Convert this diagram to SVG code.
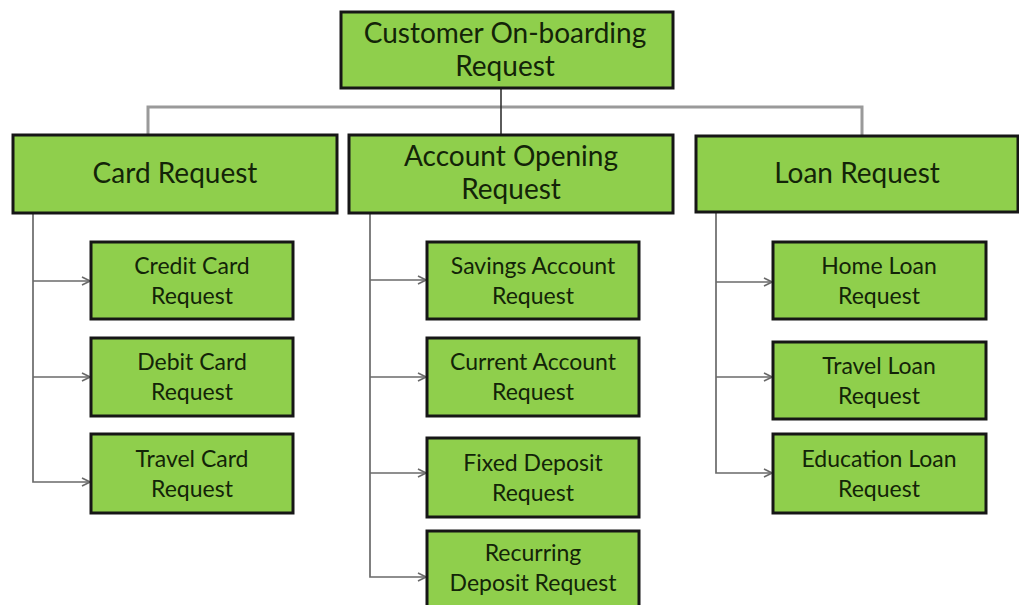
<svg xmlns="http://www.w3.org/2000/svg" width="1019" height="605" viewBox="0 0 1019 605">
  <defs>
    <style>
      .box { fill: #8fcf4c; stroke: #161616; stroke-width: 3; }
      .lbl { font-family: Lato, "Open Sans", "Liberation Sans", sans-serif; fill: #132408; text-anchor: middle; }
      .big { font-size: 28px; }
      .small { font-size: 23px; }
      .wire { fill: none; stroke: #6a6a6a; stroke-width: 1.7; }
      .bus { fill: none; stroke: #9a9a9a; stroke-width: 3; }
      .stem { fill: none; stroke: #333333; stroke-width: 1.6; }
    </style>
    <marker id="arrow" viewBox="0 0 10 10" refX="9" refY="5" markerWidth="10" markerHeight="10" markerUnits="userSpaceOnUse" orient="auto">
      <path d="M1,1 L9,5 L1,9" fill="none" stroke="#6a6a6a" stroke-width="1.6"/>
    </marker>
  </defs>
  <rect width="1019" height="605" fill="#ffffff"/>

  <g id="connectors">
    <path class="bus" d="M148,135 V107 H862 V136"/>
    <line class="stem" x1="501" y1="88" x2="501" y2="135"/>
    <!-- card branch -->
    <path class="wire" d="M33,213 V482 H90" marker-end="url(#arrow)"/>
    <line class="wire" x1="33" y1="281" x2="90" y2="281" marker-end="url(#arrow)"/>
    <line class="wire" x1="33" y1="377" x2="90" y2="377" marker-end="url(#arrow)"/>
    <!-- account branch -->
    <path class="wire" d="M370,213 V577 H426" marker-end="url(#arrow)"/>
    <line class="wire" x1="370" y1="280" x2="426" y2="280" marker-end="url(#arrow)"/>
    <line class="wire" x1="370" y1="377" x2="426" y2="377" marker-end="url(#arrow)"/>
    <line class="wire" x1="370" y1="473" x2="426" y2="473" marker-end="url(#arrow)"/>
    <!-- loan branch -->
    <path class="wire" d="M716,212 V473 H772" marker-end="url(#arrow)"/>
    <line class="wire" x1="716" y1="282" x2="772" y2="282" marker-end="url(#arrow)"/>
    <line class="wire" x1="716" y1="377" x2="772" y2="377" marker-end="url(#arrow)"/>
  </g>

  <g id="root">
    <rect class="box" x="341" y="12" width="332" height="76"/>
    <text class="lbl big" x="505" y="43">Customer On-boarding</text>
    <text class="lbl big" x="505" y="76">Request</text>
  </g>

  <g id="card-request">
    <rect class="box" x="13" y="135" width="324" height="78"/>
    <text class="lbl big" x="175" y="183">Card Request</text>
  </g>
  <g id="account-request">
    <rect class="box" x="349" y="135" width="324" height="78"/>
    <text class="lbl big" x="511" y="166">Account Opening</text>
    <text class="lbl big" x="511" y="199">Request</text>
  </g>
  <g id="loan-request">
    <rect class="box" x="696" y="136" width="322" height="76"/>
    <text class="lbl big" x="857" y="183">Loan Request</text>
  </g>

  <g id="credit-card">
    <rect class="box" x="91" y="242" width="202" height="77"/>
    <text class="lbl small" x="192" y="274">Credit Card</text>
    <text class="lbl small" x="192" y="304">Request</text>
  </g>
  <g id="debit-card">
    <rect class="box" x="91" y="338" width="202" height="78"/>
    <text class="lbl small" x="192" y="370">Debit Card</text>
    <text class="lbl small" x="192" y="400">Request</text>
  </g>
  <g id="travel-card">
    <rect class="box" x="91" y="434" width="202" height="79"/>
    <text class="lbl small" x="192" y="467">Travel Card</text>
    <text class="lbl small" x="192" y="497">Request</text>
  </g>

  <g id="savings-account">
    <rect class="box" x="427" y="242" width="212" height="77"/>
    <text class="lbl small" x="533" y="274">Savings Account</text>
    <text class="lbl small" x="533" y="304">Request</text>
  </g>
  <g id="current-account">
    <rect class="box" x="427" y="338" width="212" height="78"/>
    <text class="lbl small" x="533" y="370">Current Account</text>
    <text class="lbl small" x="533" y="400">Request</text>
  </g>
  <g id="fixed-deposit">
    <rect class="box" x="427" y="438" width="212" height="79"/>
    <text class="lbl small" x="533" y="471">Fixed Deposit</text>
    <text class="lbl small" x="533" y="501">Request</text>
  </g>
  <g id="recurring-deposit">
    <rect class="box" x="427" y="531" width="212" height="80"/>
    <text class="lbl small" x="533" y="561">Recurring</text>
    <text class="lbl small" x="533" y="591">Deposit Request</text>
  </g>

  <g id="home-loan">
    <rect class="box" x="773" y="242" width="213" height="77"/>
    <text class="lbl small" x="879" y="274">Home Loan</text>
    <text class="lbl small" x="879" y="304">Request</text>
  </g>
  <g id="travel-loan">
    <rect class="box" x="773" y="342" width="213" height="77"/>
    <text class="lbl small" x="879" y="374">Travel Loan</text>
    <text class="lbl small" x="879" y="404">Request</text>
  </g>
  <g id="education-loan">
    <rect class="box" x="773" y="434" width="213" height="79"/>
    <text class="lbl small" x="879" y="467">Education Loan</text>
    <text class="lbl small" x="879" y="497">Request</text>
  </g>
</svg>
